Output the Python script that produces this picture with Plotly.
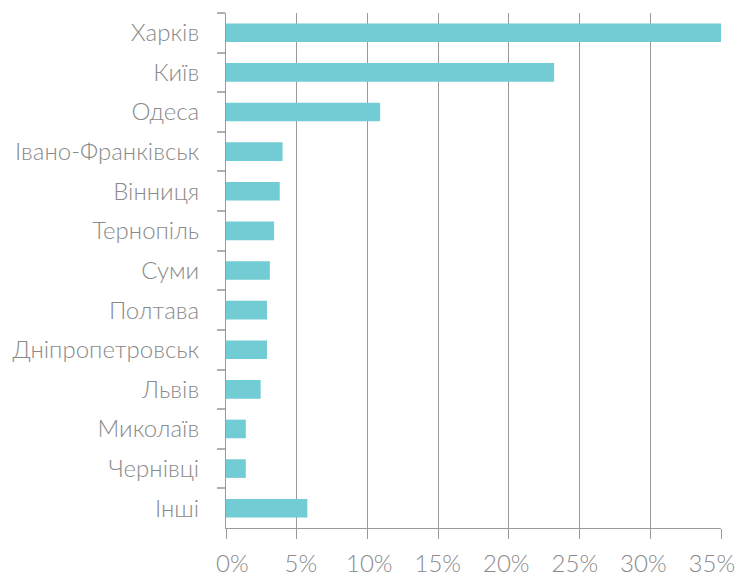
import plotly.graph_objects as go

categories = ["Харків", "Київ", "Одеса", "Івано-Франківськ", "Вінниця", "Тернопіль",
              "Суми", "Полтава", "Дніпропетровськ", "Львів", "Миколаїв", "Чернівці", "Інші"]
values = [35.0, 23.2, 10.9, 4.0, 3.8, 3.4, 3.1, 2.9, 2.9, 2.45, 1.4, 1.4, 5.75]
x_ticks = [0, 5, 10, 15, 20, 25, 30, 35]
x_tick_labels = ["0%", "5%", "10%", "15%", "20%", "25%", "30%", "35%"]

font_family = "Lato, 'Open Sans', sans-serif"
text_color = "#8a8a8a"

fig = go.Figure()
fig.add_trace(go.Bar(
    x=values, y=categories, orientation="h",
    marker=dict(color="#72CCD4", line=dict(width=0)),
    width=0.47,
))
# invisible helper so the label axis is drawn
fig.add_trace(go.Scatter(
    x=[x_ticks[0], x_ticks[-1]], y=[categories[0], categories[0]],
    xaxis="x2", mode="markers", marker=dict(opacity=0),
    hoverinfo="skip", showlegend=False,
))

fig.update_layout(
    width=740, height=576,
    margin=dict(l=226, r=19, t=13, b=48),
    plot_bgcolor="white", paper_bgcolor="white",
    showlegend=False,
    font=dict(family=font_family, color=text_color, weight=300),
    xaxis=dict(
        range=[0, 35], tickvals=x_ticks, showticklabels=False,
        showgrid=True, gridcolor="#9a9a9a", gridwidth=1,
        showline=True, linecolor="#9a9a9a", linewidth=1,
        ticks="outside", ticklen=10, tickcolor="#9a9a9a", tickwidth=1,
        automargin=False, zeroline=False,
    ),
    xaxis2=dict(
        overlaying="x", anchor="y", side="bottom",
        range=[-0.46, 35.67], tickvals=x_ticks, ticktext=x_tick_labels,
        showgrid=False, showline=False, zeroline=False,
        ticks="outside", ticklen=10, tickcolor="rgba(0,0,0,0)",
        tickfont=dict(size=24, family=font_family, color=text_color, weight=300),
        ticklabelstandoff=4,
        ticklabeloverflow="allow",
        automargin=False,
    ),
)
fig.update_yaxes(
    categoryorder="array", categoryarray=categories,
    range=[len(categories) - 0.5, -0.5],
    tickson="boundaries", ticks="outside", ticklen=8, tickcolor="#b0b0b0", tickwidth=2,
    showline=True, linecolor="#9a9a9a", linewidth=1,
    showgrid=False,
    tickfont=dict(size=24, family=font_family, color=text_color, weight=300),
    ticklabelstandoff=21,
    automargin=False,
)

fig.write_html("out.html", config={"displayModeBar": False},
               post_script="document.body.style.margin='0';")
